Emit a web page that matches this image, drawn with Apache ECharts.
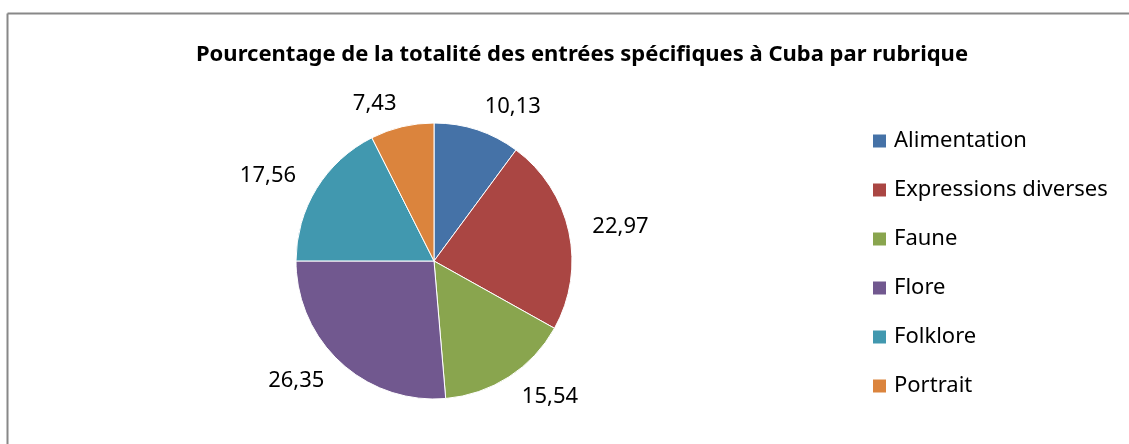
<!DOCTYPE html>
<head>
    <meta charset="utf-8"/>
    <style>
        html, body {
            height: 100%;
            margin: 0;
        }
        body {
            background-color: #fff;
        }
    </style>
    <script src="https://cdn.jsdelivr.net/npm/echarts@6/dist/echarts.min.js"></script>
</head>
<body>
<div id="main" style="height: 444px; width: 1129px;"></div>
<script type="text/javascript">
    var categories = ['Alimentation', 'Expressions diverses', 'Faune', 'Flore', 'Folklore', 'Portrait'];
    var values = [10.13, 22.97, 15.54, 26.35, 17.56, 7.43];
    var colors = ['#4572A7', '#AA4643', '#89A54E', '#71588F', '#4198AF', '#DB843D'];

    var font = '"Noto Sans", "Open Sans", sans-serif';

    var pieData = [];
    for (var i = 0; i < categories.length; i++) {
        pieData.push({name: categories[i], value: values[i], itemStyle: {color: colors[i]}});
    }

    var myChart = echarts.init(document.getElementById('main'));
    var options = {
        animation: false,
        title: {
            text: 'Pourcentage de la totalité des entrées spécifiques à Cuba par rubrique',
            left: 577,
            top: 39,
            textAlign: 'center',
            textStyle: {
                fontFamily: font,
                fontWeight: 'bold',
                fontSize: 22,
                color: '#000'
            }
        },
        legend: {
            orient: 'vertical',
            left: 866,
            top: 125,
            itemWidth: 15,
            itemHeight: 15,
            itemGap: 27,
            icon: 'rect',
            textStyle: {
                fontFamily: font,
                fontSize: 22,
                color: '#000',
                padding: [0, 0, 0, 2]
            },
            data: categories
        },
        // le cadre gris (haut et gauche seulement visibles)
        graphic: [
            {type: 'line', shape: {x1: 7.5, y1: 13.5, x2: 1129, y2: 13.5}, style: {stroke: '#888', lineWidth: 2}},
            {type: 'line', shape: {x1: 7.5, y1: 13.5, x2: 7.5, y2: 444}, style: {stroke: '#888', lineWidth: 2}}
        ],
        series: [{
            type: 'pie',
            center: [434, 261],
            radius: 138,
            startAngle: 90,
            clockwise: true,
            avoidLabelOverlap: false,
            itemStyle: {
                borderColor: '#fff',
                borderWidth: 1
            },
            label: {
                show: true,
                position: 'outside',
                fontFamily: font,
                fontSize: 22,
                color: '#000',
                formatter: function (p) {
                    return String(p.value).replace('.', ',');
                }
            },
            labelLine: {
                show: false,
                length: 24,
                length2: -5
            },
            data: pieData
        }]
    };
    myChart.setOption(options);
</script>
</body>
